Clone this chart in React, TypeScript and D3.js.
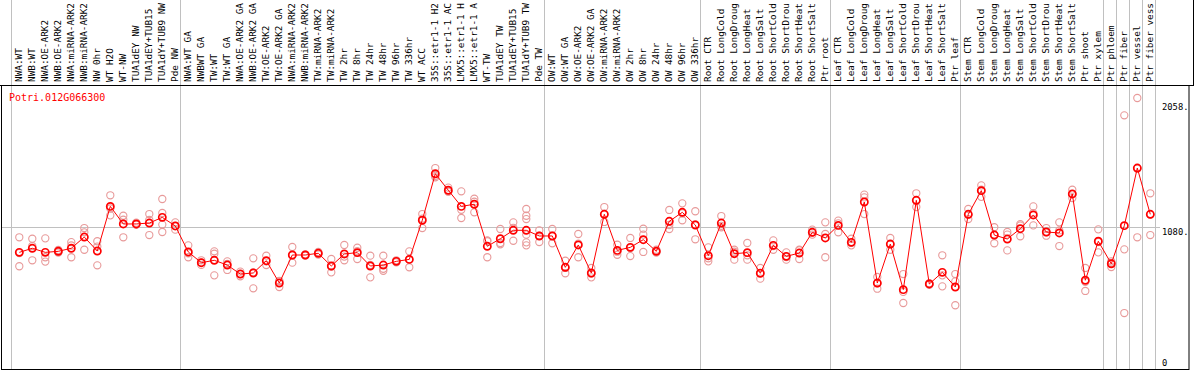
import React, { useEffect, useRef } from "react";
import * as d3 from "d3";

const W = 1194;
const H = 370;

const geneId = "Potri.012G066300";

const samples = [
    "NWA:WT", "NWB:WT", "NWA:OE-ARK2", "NWB:OE-ARK2", "NWA:miRNA-ARK2", "NWB:miRNA-ARK2",
    "NW 0hr", "WT H2O", "WT-NW", "TUA1dEY NW", "TUA1dEY+TUB15 NW", "TUA1dY+TUB9 NW", "Pde NW",
    "NWA:WT GA", "NWBWT GA", "TW:WT", "TW:WT GA", "NWA:OE-ARK2 GA", "NWB:OE-ARK2 GA",
    "TW:OE-ARK2", "TW:OE-ARK2 GA", "NWA:miRNA-ARK2 GA", "NWB:miRNA-ARK2 GA", "TW:miRNA-ARK2",
    "TW:miRNA-ARK2 GA", "TW 2hr", "TW 8hr", "TW 24hr", "TW 48hr", "TW 96hr", "TW 336hr",
    "WT ACC", "35S::etr1-1 H2O", "35S::etr1-1 ACC", "LMX5::etr1-1 H2O", "LMX5::etr1-1 ACC",
    "WT-TW", "TUA1dEY TW", "TUA1dEY+TUB15 TW", "TUA1dY+TUB9 TW", "Pde TW",
    "OW:WT", "OW:WT GA", "OW:OE-ARK2", "OW:OE-ARK2 GA", "OW:miRNA-ARK2", "OW:miRNA-ARK2 GA",
    "OW 2hr", "OW 8hr", "OW 24hr", "OW 48hr", "OW 96hr", "OW 336hr",
    "Root CTR", "Root LongCold", "Root LongDrought", "Root LongHeat", "Root LongSalt",
    "Root ShortCold", "Root ShortDrought", "Root ShortHeat", "Root ShortSalt", "Ptr root",
    "Leaf CTR", "Leaf LongCold", "Leaf LongDrought", "Leaf LongHeat", "Leaf LongSalt",
    "Leaf ShortCold", "Leaf ShortDrought", "Leaf ShortHeat", "Leaf ShortSalt", "Ptr leaf",
    "Stem CTR", "Stem LongCold", "Stem LongDrought", "Stem LongHeat", "Stem LongSalt",
    "Stem ShortCold", "Stem ShortDrought", "Stem ShortHeat", "Stem ShortSalt", "Ptr shoot",
    "Ptr xylem", "Ptr phloem", "Ptr fiber", "Ptr vessel", "Ptr fiber vessel",
];

// sample index where a new group starts (a grey separator is drawn before it)
const groupStarts = [0, 13, 41, 53, 63, 73, 84, 85, 86, 87, 88];

const meanExpr = [
    890, 921, 890, 898, 921, 1006, 900, 1238, 1105, 1105, 1112, 1155, 1090,
    893, 812, 830, 794, 726, 734, 827, 658, 870, 870, 883, 787, 878, 888, 787, 794, 822,
    837, 1133, 1485, 1360, 1238, 1254, 936, 993, 1057, 1057, 1014,
    1014, 777, 946, 734, 1178, 905, 928, 986, 898, 1125, 1193, 1097,
    865, 1112, 880, 888, 732, 943, 860, 885, 1042, 999,
    1094, 966, 1271, 658, 953, 608, 1284, 651, 739, 628,
    1178, 1357, 1021, 991, 1069, 1173, 1044, 1037, 1332, 679, 974,
    804, 1092, 1528, 1178,
];

const replicateExpr = [
    [1004, 885, 785], [993, 938, 830], [996, 853, 820], [908, 893, 889], [968, 942, 853],
    [1074, 1042, 910], [974, 934, 792], [1322, 1222, 1170], [1167, 1137, 1004], [1115, 1100, 1100],
    [1180, 1135, 1021], [1294, 1188, 1100, 1044], [1117, 1090, 1062],
    [943, 883, 853], [830, 812, 795], [898, 880, 716], [822, 803, 757], [744, 726, 709],
    [845, 739, 618], [865, 822, 794], [675, 671, 628], [931, 867, 812], [875, 870, 865],
    [893, 883, 873], [840, 782, 739], [946, 858, 830], [925, 899, 840], [865, 795, 701],
    [865, 766, 751], [830, 822, 814], [898, 836, 777], [1180, 1145, 1074], [1528, 1469, 1458],
    [1380, 1350, 1350], [1352, 1212, 1150], [1296, 1273, 1193], [981, 974, 853], [1067, 961, 951],
    [1117, 1076, 978], [1218, 1167, 1142, 1024, 966, 943], [1057, 1017, 968],
    [1067, 1016, 959], [827, 772, 732], [1029, 956, 853], [772, 729, 701], [1233, 1181, 1120],
    [948, 895, 872], [999, 923, 862], [1069, 1024, 893], [910, 898, 888], [1211, 1097, 1067],
    [1261, 1185, 1133], [1201, 1101, 989],
    [928, 845, 822], [1165, 1091, 1080], [910, 895, 835], [961, 868, 835], [772, 733, 691],
    [981, 938, 910], [890, 855, 835], [910, 905, 840], [1062, 1040, 1024], [1117, 1029, 853],
    [1130, 1110, 1042], [993, 962, 943], [1327, 1306, 1180], [704, 655, 615], [999, 950, 910],
    [726, 591, 507], [1337, 1282, 1233], [657, 651, 645], [868, 716, 633], [726, 671, 490],
    [1218, 1174, 1142], [1397, 1364, 1310], [1080, 1024, 959], [1044, 1024, 905], [1103, 1092, 1012],
    [1238, 1187, 1094], [1074, 1042, 1016], [1117, 1056, 938], [1364, 1331, 1301], [772, 667, 598],
    [1064, 968, 890], [822, 811, 779], [1927, 913, 431], [2058, 1524, 1004], [1337, 1176, 1021],
];

const yTicks = [0, 1080, 2058];
const yTickLabels = ["0", "1080.", "2058."];

const MONO = "'DejaVu Sans Mono', 'Liberation Mono', monospace";
const LABEL_BOTTOM = 85;
const PLOT_BOTTOM = 369;
const PLOT_RIGHT = 1189;

const App = () => {
    const svgRef = useRef<SVGSVGElement>(null);

    useEffect(() => {
        if (!svgRef.current) return;
        const svg = d3.select(svgRef.current);
        svg.selectAll("*").remove();

        const x = d3.scaleBand<number>()
            .domain(d3.range(samples.length))
            .range([11, 11 + samples.length * 13])
            .padding(0);
        const px = (i: number) => (x(i) as number) + 8.3;
        const y = d3.scaleLinear().domain([0, 2058]).range([370, 98]);
        const crisp = (v: number) => Math.floor(v) + 0.5;

        svg.append("rect").attr("width", W).attr("height", H).attr("fill", "#fff");

        // ── group separators (through labels and plot) ────────────────────────
        groupStarts.forEach(k => {
            const gx = crisp(k < samples.length ? (x(k) as number) : (x(samples.length - 1) as number) + 13);
            svg.append("line")
                .attr("x1", gx).attr("x2", gx)
                .attr("y1", 0).attr("y2", PLOT_BOTTOM)
                .attr("stroke", "#c0c0c0").attr("stroke-width", 1);
        });

        // ── horizontal grid at the middle tick ───────────────────────────────
        svg.append("line")
            .attr("x1", 2).attr("x2", 1160)
            .attr("y1", crisp(y(1080))).attr("y2", crisp(y(1080)))
            .attr("stroke", "#c0c0c0").attr("stroke-width", 1);

        // ── frame ────────────────────────────────────────────────────────────
        svg.append("line")
            .attr("x1", 0).attr("x2", W)
            .attr("y1", LABEL_BOTTOM + 0.5).attr("y2", LABEL_BOTTOM + 0.5)
            .attr("stroke", "#000");
        svg.append("line")
            .attr("x1", 1193.5).attr("x2", 1193.5)
            .attr("y1", 0).attr("y2", LABEL_BOTTOM)
            .attr("stroke", "#000");
        svg.append("rect")
            .attr("x", 1.5).attr("y", LABEL_BOTTOM + 0.5)
            .attr("width", PLOT_RIGHT - 1.5).attr("height", PLOT_BOTTOM - LABEL_BOTTOM)
            .attr("fill", "none").attr("stroke", "#000");

        // ── sample labels ────────────────────────────────────────────────────
        svg.append("g")
            .selectAll("text")
            .data(samples)
            .join("text")
            .attr("transform", (_, i) => `translate(${px(i) + 2.6},82) rotate(-90)`)
            .attr("font-family", MONO)
            .attr("font-size", "9.4px")
            .attr("fill", "#000")
            .text(d => d.slice(0, 14));

        // ── y labels ─────────────────────────────────────────────────────────
        const labelDy = [-4, 8, 12];
        yTicks.forEach((t, i) => {
            svg.append("text")
                .attr("x", 1162).attr("y", y(t) + labelDy[i])
                .attr("font-family", MONO)
                .attr("font-size", "8.8px")
                .attr("fill", "#000")
                .text(yTickLabels[i]);
        });

        // ── title ────────────────────────────────────────────────────────────
        svg.append("text")
            .attr("x", 9).attr("y", 101)
            .attr("font-family", MONO)
            .attr("font-size", "10px")
            .attr("fill", "#ff0000")
            .text(geneId);

        // ── replicates ───────────────────────────────────────────────────────
        const repG = svg.append("g");
        replicateExpr.forEach((reps, i) => {
            reps.forEach(v => {
                repG.append("circle")
                    .attr("cx", px(i)).attr("cy", y(v)).attr("r", 3.6)
                    .attr("fill", "none")
                    .attr("stroke", "#e89a9a")
                    .attr("stroke-width", 1.1);
            });
        });

        // ── mean line + markers ──────────────────────────────────────────────
        const line = d3.line<number>().x((_, i) => px(i)).y(d => y(d));
        svg.append("path")
            .attr("d", line(meanExpr))
            .attr("fill", "none")
            .attr("stroke", "#ff0000")
            .attr("stroke-width", 1);

        svg.append("g")
            .selectAll("circle")
            .data(meanExpr)
            .join("circle")
            .attr("cx", (_, i) => px(i)).attr("cy", d => y(d)).attr("r", 3.6)
            .attr("fill", "none")
            .attr("stroke", "#ff0000")
            .attr("stroke-width", 1.7);
    }, []);

    return (
        <svg
            ref={svgRef}
            width={W}
            height={H}
            style={{ position: "absolute", left: 0, top: 0, display: "block" }}
        />
    );
};

export default App;
